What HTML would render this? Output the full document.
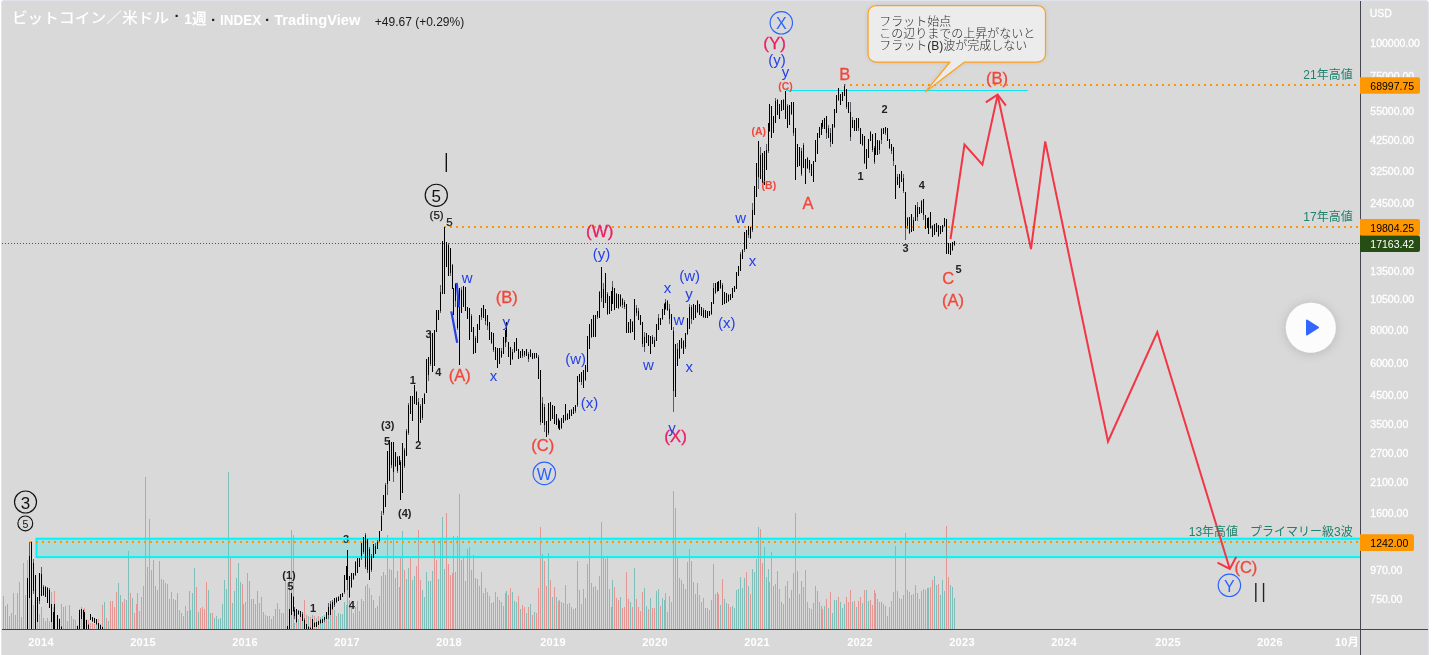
<!DOCTYPE html>
<html lang="ja"><head><meta charset="utf-8"><title>BTCUSD chart</title>
<style>
html,body{margin:0;padding:0;background:#fff;}
body{width:1432px;height:655px;overflow:hidden;position:relative;font-family:"Liberation Sans","Noto Sans CJK JP",sans-serif;}
#chart{position:absolute;left:1px;top:0;width:1426px;height:660px;background:#d9d9d9;border:1px solid #e0e3eb;border-radius:3px 3px 0 0;box-sizing:content-box}
</style></head><body><div id="chart"></div>
<svg width="1432" height="655" viewBox="0 0 1432 655" style="position:absolute;left:0;top:0">
<defs><clipPath id="pane"><rect x="2" y="1" width="1358" height="628"/></clipPath><filter id="sh" x="-50%" y="-50%" width="200%" height="200%"><feGaussianBlur in="SourceAlpha" stdDeviation="6"/><feOffset dy="1"/><feComponentTransfer><feFuncA type="linear" slope="0.16"/></feComponentTransfer><feMerge><feMergeNode/><feMergeNode in="SourceGraphic"/></feMerge></filter><filter id="sh2" x="-20%" y="-20%" width="140%" height="160%"><feGaussianBlur in="SourceAlpha" stdDeviation="2"/><feComponentTransfer><feFuncA type="linear" slope="0.10"/></feComponentTransfer><feMerge><feMergeNode/><feMergeNode in="SourceGraphic"/></feMerge></filter></defs>
<g clip-path="url(#pane)">
<path d="M3.5 629V595.8M7.5 629V603.9M11.5 629V613.0M15.5 629V615.1M17.5 629V593.0M19.5 629V582.1M21.5 629V616.9M23.5 629V563.1M25.5 629V595.0M27.5 629V560.0M29.5 629V597.5M33.5 629V604.8M37.5 629V620.7M39.5 629V613.7M43.5 629V617.9M47.5 629V617.9M57.5 629V617.9M67.5 629V621.0M69.5 629V604.8M73.5 629V618.9M75.5 629V620.0M77.5 629V624.9M79.5 629V608.8M81.5 629V607.1M86.5 629V618.9M96.5 629V620.0M100.5 629V624.2M104.5 629V601.7M108.5 629V620.7M118.5 629V582.8M120.5 629V594.7M126.5 629V599.6M128.5 629V550.9M132.5 629V597.8M143.5 629V585.6M147.5 629V566.6M153.5 629V559.9M155.5 629V585.6M157.5 629V589.8M159.5 629V560.7M161.5 629V578.6M175.5 629V599.6M177.5 629V592.6M181.5 629V612.7M187.5 629V610.9M189.5 629V590.8M190.5 629V609.8M192.5 629V592.6M194.5 629V567.8M198.5 629V611.9M208.5 629V589.8M210.5 629V612.7M214.5 629V617.9M216.5 629V615.8M218.5 629V618.9M220.5 629V617.9M222.5 629V603.9M224.5 629V579.7M226.5 629V589.0M228.5 629V472.0M232.5 629V602.7M234.5 629V590.8M236.5 629V577.6M238.5 629V562.7M240.5 629V581.8M243.5 629V603.9M245.5 629V601.8M249.5 629V580.7M253.5 629V598.7M255.5 629V603.9M257.5 629V590.8M263.5 629V611.9M267.5 629V615.8M271.5 629V618.9M273.5 629V615.8M275.5 629V608.8M285.5 629V579.7M287.5 629V582.8M289.5 629V578.6M291.5 629V530.0M294.5 629V622.8M298.5 629V618.6M302.5 629V620.0M308.5 629V615.8M312.5 629V615.1M316.5 629V617.9M320.5 629V616.5M322.5 629V615.8M324.5 629V615.1M328.5 629V613.0M330.5 629V611.6M334.5 629V610.2M338.5 629V613.0M340.5 629V613.7M342.5 629V613.7M344.5 629V601.7M346.5 629V604.8M355.5 629V607.1M359.5 629V610.9M361.5 629V598.8M363.5 629V600.8M371.5 629V595.1M373.5 629V600.2M377.5 629V606.4M379.5 629V596.3M381.5 629V576.2M383.5 629V572.1M385.5 629V575.0M387.5 629V535.2M391.5 629V570.1M397.5 629V571.1M402.5 629V531.2M406.5 629V579.0M408.5 629V568.1M412.5 629V580.2M414.5 629V576.2M422.5 629V590.1M424.5 629V597.1M426.5 629V571.9M428.5 629V581.0M430.5 629V581.0M432.5 629V570.9M438.5 629V579.0M440.5 629V539.3M442.5 629V517.1M444.5 629V569.0M455.5 629V571.9M461.5 629V560.0M463.5 629V557.4M465.5 629V581.0M471.5 629V570.1M475.5 629V578.2M477.5 629V579.0M479.5 629V586.3M481.5 629V572.1M483.5 629V593.1M491.5 629V603.2M493.5 629V602.2M499.5 629V600.2M501.5 629V601.5M505.5 629V593.1M506.5 629V591.3M512.5 629V592.3M514.5 629V601.2M516.5 629V602.2M520.5 629V609.2M526.5 629V613.3M530.5 629V604.2M534.5 629V612.3M542.5 629V554.0M548.5 629V553.4M552.5 629V597.1M556.5 629V597.1M561.5 629V602.2M565.5 629V585.0M567.5 629V604.2M569.5 629V603.2M571.5 629V607.2M573.5 629V609.2M575.5 629V608.2M577.5 629V561.1M581.5 629V604.2M585.5 629V598.2M587.5 629V564.1M589.5 629V537.3M591.5 629V583.0M593.5 629V587.1M597.5 629V590.1M599.5 629V576.0M603.5 629V557.4M607.5 629V556.4M611.5 629V606.5M612.5 629V580.0M620.5 629V597.1M630.5 629V602.2M634.5 629V568.1M644.5 629V588.1M646.5 629V606.2M650.5 629V598.2M656.5 629V591.1M658.5 629V589.1M662.5 629V598.2M664.5 629V600.2M675.5 629V508.0M677.5 629V557.4M679.5 629V578.2M681.5 629V580.2M683.5 629V584.2M685.5 629V589.1M687.5 629V562.1M691.5 629V561.1M695.5 629V594.1M697.5 629V583.0M705.5 629V608.2M707.5 629V608.2M711.5 629V600.2M713.5 629V564.1M715.5 629V594.1M717.5 629V592.1M720.5 629V605.2M724.5 629V599.2M726.5 629V603.2M732.5 629V606.2M734.5 629V608.2M736.5 629V590.1M738.5 629V589.1M740.5 629V577.0M742.5 629V588.1M744.5 629V578.2M748.5 629V586.1M752.5 629V569.1M754.5 629V572.1M756.5 629V559.1M758.5 629V527.2M764.5 629V547.0M766.5 629V577.0M768.5 629V569.1M769.5 629V582.0M773.5 629V586.1M775.5 629V584.1M777.5 629V571.4M781.5 629V602.2M783.5 629V604.2M789.5 629V598.2M791.5 629V590.1M797.5 629V571.0M799.5 629V594.1M801.5 629V581.0M807.5 629V602.2M813.5 629V603.2M815.5 629V586.1M817.5 629V591.1M819.5 629V602.2M821.5 629V606.2M824.5 629V606.2M828.5 629V608.2M832.5 629V612.8M834.5 629V600.2M836.5 629V600.2M840.5 629V602.2M842.5 629V608.2M844.5 629V604.2M852.5 629V602.2M856.5 629V607.2M862.5 629V603.2M866.5 629V590.1M868.5 629V601.2M875.5 629V593.1M877.5 629V599.2M879.5 629V602.2M881.5 629V602.2M887.5 629V615.5M901.5 629V599.2M907.5 629V590.1M911.5 629V595.1M915.5 629V585.1M917.5 629V593.1M921.5 629V591.1M927.5 629V588.1M928.5 629V588.1M934.5 629V576.0M936.5 629V585.1M940.5 629V595.1M942.5 629V580.0M944.5 629V591.2M950.5 629V585.1M952.5 629V587.1M954.5 629V598.2" stroke="#80bfb9" stroke-width="1" shape-rendering="crispEdges" fill="none"/>
<path d="M5.5 629V606.0M9.5 629V615.8M13.5 629V593.0M31.5 629V607.4M35.5 629V613.0M41.5 629V607.1M45.5 629V620.7M49.5 629V620.7M51.5 629V591.9M53.5 629V607.1M54.5 629V590.8M59.5 629V617.9M61.5 629V603.9M63.5 629V607.1M65.5 629V606.0M71.5 629V615.8M83.5 629V608.8M84.5 629V608.1M88.5 629V620.0M90.5 629V622.8M92.5 629V622.8M94.5 629V623.9M98.5 629V618.9M102.5 629V604.8M106.5 629V617.9M110.5 629V601.0M112.5 629V600.6M114.5 629V606.7M116.5 629V591.9M122.5 629V601.8M124.5 629V598.7M130.5 629V592.6M134.5 629V612.7M136.5 629V603.9M137.5 629V592.6M139.5 629V610.9M141.5 629V596.8M145.5 629V477.0M149.5 629V519.0M151.5 629V569.7M163.5 629V580.0M165.5 629V582.8M167.5 629V584.0M169.5 629V598.9M171.5 629V591.9M173.5 629V598.7M179.5 629V609.8M183.5 629V615.8M185.5 629V605.7M196.5 629V586.7M200.5 629V607.8M202.5 629V606.8M204.5 629V608.8M206.5 629V581.8M212.5 629V612.7M230.5 629V557.9M242.5 629V583.8M247.5 629V572.7M251.5 629V598.7M259.5 629V602.7M261.5 629V596.8M265.5 629V614.8M269.5 629V615.8M277.5 629V602.7M279.5 629V609.0M281.5 629V612.7M283.5 629V612.7M293.5 629V535.0M296.5 629V622.8M300.5 629V616.5M304.5 629V600.1M306.5 629V615.1M310.5 629V616.5M314.5 629V615.8M318.5 629V615.8M326.5 629V616.5M332.5 629V602.0M336.5 629V615.8M347.5 629V589.8M349.5 629V599.6M351.5 629V608.1M353.5 629V613.0M357.5 629V601.0M365.5 629V586.3M367.5 629V584.2M369.5 629V587.7M375.5 629V607.8M389.5 629V569.0M393.5 629V539.3M395.5 629V578.2M399.5 629V587.1M400.5 629V557.4M404.5 629V570.1M410.5 629V557.4M416.5 629V566.1M418.5 629V530.2M420.5 629V580.2M434.5 629V538.3M436.5 629V560.0M446.5 629V513.1M448.5 629V564.1M450.5 629V575.0M452.5 629V573.0M453.5 629V536.3M457.5 629V536.3M459.5 629V494.0M467.5 629V549.4M469.5 629V547.3M473.5 629V555.4M485.5 629V588.1M487.5 629V592.3M489.5 629V596.3M495.5 629V592.3M497.5 629V597.1M503.5 629V606.2M508.5 629V595.1M510.5 629V588.1M518.5 629V596.3M522.5 629V605.2M524.5 629V607.2M528.5 629V607.2M532.5 629V615.3M536.5 629V613.3M538.5 629V588.1M540.5 629V527.2M544.5 629V561.1M546.5 629V586.3M550.5 629V580.2M554.5 629V587.1M558.5 629V601.2M559.5 629V600.2M563.5 629V603.2M579.5 629V590.1M583.5 629V589.1M595.5 629V586.1M601.5 629V522.1M605.5 629V559.0M609.5 629V589.1M614.5 629V587.1M616.5 629V598.2M618.5 629V600.2M622.5 629V608.2M624.5 629V607.2M626.5 629V571.9M628.5 629V599.2M632.5 629V607.2M636.5 629V599.2M638.5 629V607.2M640.5 629V611.3M642.5 629V592.1M648.5 629V609.2M652.5 629V608.2M654.5 629V608.2M660.5 629V606.2M665.5 629V593.1M667.5 629V612.2M669.5 629V596.1M671.5 629V602.2M673.5 629V491.0M689.5 629V549.0M693.5 629V582.0M699.5 629V595.1M701.5 629V602.2M703.5 629V598.2M709.5 629V610.2M718.5 629V594.1M722.5 629V579.2M728.5 629V604.2M730.5 629V607.2M746.5 629V571.9M750.5 629V594.1M760.5 629V529.2M762.5 629V563.1M771.5 629V552.0M779.5 629V589.1M785.5 629V586.1M787.5 629V581.0M793.5 629V573.0M795.5 629V513.1M803.5 629V587.1M805.5 629V570.2M809.5 629V608.2M811.5 629V609.2M822.5 629V609.2M826.5 629V599.2M830.5 629V592.1M838.5 629V597.2M846.5 629V597.2M848.5 629V602.2M850.5 629V590.1M854.5 629V601.2M858.5 629V601.2M860.5 629V597.2M864.5 629V590.1M870.5 629V600.2M872.5 629V605.2M874.5 629V590.1M883.5 629V604.2M885.5 629V606.2M889.5 629V607.2M891.5 629V601.2M893.5 629V592.1M895.5 629V546.0M897.5 629V591.1M899.5 629V598.2M903.5 629V595.1M905.5 629V532.9M909.5 629V592.1M913.5 629V594.1M919.5 629V599.2M923.5 629V589.1M925.5 629V590.1M930.5 629V587.1M932.5 629V580.0M938.5 629V584.1M946.5 629V525.8M948.5 629V577.0" stroke="#e49694" stroke-width="1" shape-rendering="crispEdges" fill="none"/>
<text x="346" y="542.9" font-size="11" fill="#222" font-weight="bold" text-anchor="middle" font-family="Liberation Sans, sans-serif">3</text>
<rect x="36.5" y="538.7" width="1340" height="18.4" fill="rgba(0,226,226,0.22)" stroke="#00f6f6" stroke-width="2"/>
<path d="M2 243.5H1360.5" stroke="#3a6b28" stroke-width="1" stroke-dasharray="1 2" shape-rendering="crispEdges"/>
<path d="M30 542H1358" stroke="#ff9800" stroke-width="2" stroke-dasharray="2 4" />
<path d="M444 227H1358" stroke="#ff9800" stroke-width="2" stroke-dasharray="2 4" />
<path d="M844 85H1358" stroke="#ff9800" stroke-width="2" stroke-dasharray="2 4" />
<path d="M786 90.5H1028" stroke="#10e4f4" stroke-width="1" shape-rendering="crispEdges"/>
<path d="M27.5 578.0V640.0M29.5 541.7V598.0M31.5 541.7V640.0M33.5 559.0V594.0M35.5 575.0V640.0M37.5 597.0V621.6M39.5 573.0V604.0M41.5 567.0V596.0M43.5 584.5V596.0M45.5 585.6V597.0M47.5 587.0V603.0M49.5 588.0V607.7M51.5 604.0V621.6M53.5 612.0V640.0M54.5 604.0V640.0M57.5 614.6V640.0M59.5 619.0V640.0M61.5 625.8V640.0M77.5 626.0V640.0M79.5 610.0V640.0M81.5 608.8V619.0M83.5 610.4V629.5M84.5 612.0V640.0M86.5 620.0V640.0M88.5 624.0V640.0M90.5 613.5V620.4M92.5 617.0V622.0M94.5 618.0V623.0M96.5 619.0V625.0M98.5 622.8V640.0M100.5 625.0V640.0M102.5 627.0V640.0M287.5 626.0V640.0M289.5 609.0V640.0M291.5 592.6V614.7M293.5 596.0V612.0M294.5 606.6V619.0M296.5 609.0V623.0M298.5 610.0V615.0M300.5 610.5V617.0M302.5 612.0V620.5M304.5 618.0V640.0M306.5 624.0V640.0M308.5 626.0V640.0M310.5 626.5V640.0M312.5 619.0V640.0M314.5 621.7V627.0M316.5 622.0V627.0M318.5 620.5V625.0M320.5 619.0V624.0M322.5 619.0V623.0M324.5 617.0V621.5M326.5 612.0V619.0M328.5 603.0V619.0M330.5 600.7V614.7M332.5 599.6V610.0M334.5 598.0V606.6M336.5 597.0V603.0M338.5 596.0V601.0M340.5 594.0V599.6M342.5 592.6V597.0M344.5 575.0V594.0M346.5 566.0V580.0M347.5 549.7V590.0M349.5 576.0V598.4M351.5 573.0V588.0M353.5 573.0V580.0M355.5 561.0V576.0M357.5 557.8V573.0M359.5 557.8V567.0M361.5 542.7V560.0M363.5 537.0V554.0M365.5 533.0V569.0M367.5 539.0V573.0M369.5 547.0V580.0M371.5 554.0V572.0M373.5 544.0V558.0M375.5 542.7V554.0M377.5 540.0V548.5M379.5 531.0V541.5M381.5 510.5V531.0M383.5 494.7V515.0M385.5 483.0V507.0M387.5 450.7V494.7M389.5 439.7V481.0M391.5 442.0V467.8M393.5 442.0V482.0M395.5 452.0V466.5M397.5 455.5V472.7M399.5 455.5V465.0M400.5 460.0V499.6M402.5 443.0V493.0M404.5 448.0V467.8M406.5 428.7V455.5M408.5 403.0V434.8M410.5 395.7V414.0M412.5 395.7V421.0M414.5 384.7V404.0M416.5 390.8V405.4M418.5 398.0V442.0M420.5 404.0V422.6M422.5 398.0V420.0M424.5 393.0V404.0M426.5 359.0V393.0M428.5 356.7V381.0M430.5 332.0V366.0M432.5 333.0V372.0M434.5 329.8V366.0M436.5 310.0V332.0M438.5 310.0V320.0M440.5 284.5V312.7M442.5 240.5V294.0M444.5 226.6V294.3M446.5 241.8V267.4M448.5 243.0V276.0M450.5 247.9V276.0M452.5 263.8V289.4M453.5 288.0V315.0M455.5 283.0V306.6M457.5 284.6V330.0M459.5 287.8V364.5M461.5 287.0V312.7M463.5 285.8V306.6M465.5 287.0V311.4M467.5 306.6V318.8M469.5 307.8V339.6M471.5 313.9V332.0M473.5 327.3V354.0M475.5 335.9V353.0M477.5 323.7V343.0M479.5 315.0V329.8M481.5 307.8V320.0M483.5 305.0V317.6M485.5 309.0V324.9M487.5 315.0V329.8M489.5 322.0V339.6M491.5 332.0V344.0M493.5 333.0V351.8M495.5 346.9V360.0M497.5 348.0V367.7M499.5 348.0V364.0M501.5 348.0V357.9M503.5 337.0V354.0M505.5 329.8V346.9M506.5 322.0V342.0M508.5 342.0V356.7M510.5 346.9V365.0M512.5 349.0V360.0M514.5 342.0V353.0M516.5 338.0V350.5M518.5 349.0V359.0M520.5 350.5V357.9M522.5 349.0V357.9M524.5 350.5V356.7M526.5 349.0V355.5M528.5 351.8V361.5M530.5 349.0V356.7M532.5 353.0V359.0M534.5 353.0V359.0M536.5 353.0V357.9M538.5 355.0V378.6M540.5 370.0V425.0M542.5 397.0V422.6M544.5 404.0V432.0M546.5 421.0V436.5M548.5 403.0V434.8M550.5 401.8V421.0M552.5 405.0V419.0M554.5 406.0V423.8M556.5 414.0V425.0M558.5 417.7V428.7M559.5 420.0V430.0M561.5 417.7V428.7M563.5 415.0V422.6M565.5 404.0V421.0M567.5 412.8V420.0M569.5 410.0V419.0M571.5 409.0V416.4M573.5 406.7V414.0M575.5 405.0V412.8M577.5 376.0V406.7M579.5 373.7V382.0M581.5 372.0V384.7M583.5 370.0V387.6M585.5 365.0V381.0M587.5 335.9V372.0M589.5 323.7V349.0M591.5 318.8V338.0M593.5 315.0V337.0M595.5 315.0V337.0M597.5 311.0V318.8M599.5 290.7V317.6M601.5 267.0V301.7M603.5 283.0V307.8M605.5 273.0V302.9M607.5 291.9V315.0M609.5 295.6V313.9M611.5 290.7V311.0M612.5 280.9V304.0M614.5 288.0V310.0M616.5 293.0V307.8M618.5 294.0V309.0M620.5 294.0V306.6M622.5 298.0V307.8M624.5 300.0V309.0M626.5 304.0V333.0M628.5 322.0V333.0M630.5 318.8V333.0M632.5 321.0V332.0M634.5 299.0V339.6M636.5 305.0V316.0M638.5 307.8V320.0M640.5 315.0V324.9M642.5 322.0V346.9M644.5 332.0V351.8M646.5 333.0V343.0M648.5 334.7V345.7M650.5 335.9V354.0M652.5 334.7V344.0M654.5 337.0V346.9M656.5 323.7V340.8M658.5 313.9V329.8M660.5 317.6V324.9M662.5 309.0V320.0M664.5 302.9V315.0M665.5 299.0V310.0M667.5 300.0V311.0M669.5 304.0V323.7M671.5 313.9V329.8M673.5 327.0V412.0M675.5 344.4V397.0M677.5 343.0V366.0M679.5 339.6V359.0M681.5 338.0V349.0M683.5 339.6V354.0M685.5 333.0V349.0M687.5 317.6V334.7M689.5 304.0V328.6M691.5 305.0V323.7M693.5 304.0V320.0M695.5 305.0V317.6M697.5 300.0V312.7M699.5 304.0V315.0M701.5 306.6V316.0M703.5 307.8V317.6M705.5 310.0V317.6M707.5 311.0V317.6M709.5 311.0V316.0M711.5 301.7V315.0M713.5 283.0V304.0M715.5 283.0V294.0M717.5 282.0V291.9M718.5 280.9V290.7M720.5 279.7V289.4M722.5 283.0V305.0M724.5 291.9V304.0M726.5 293.0V302.9M728.5 294.0V301.7M730.5 294.0V300.0M732.5 288.0V298.0M734.5 285.8V291.9M736.5 272.0V289.4M738.5 266.0V276.0M740.5 251.6V271.0M742.5 249.0V258.9M744.5 232.0V251.6M746.5 229.6V249.0M748.5 225.9V238.0M750.5 227.0V239.0M752.5 203.0V231.7M754.5 185.9V215.0M756.5 163.0V196.9M758.5 141.0V188.6M760.5 147.4V178.6M762.5 152.9V183.0M764.5 151.0V185.0M766.5 143.7V170.3M768.5 122.6V152.9M769.5 104.0V132.0M771.5 106.0V138.0M773.5 115.7V133.0M775.5 98.0V122.6M777.5 99.0V114.8M779.5 104.0V118.7M781.5 100.0V110.8M783.5 99.0V109.9M785.5 91.3V118.7M787.5 104.0V128.4M789.5 105.0V124.5M791.5 102.0V114.8M793.5 102.0V136.0M795.5 128.4V180.4M797.5 143.7V166.6M799.5 147.4V165.7M801.5 148.3V175.6M803.5 142.8V168.0M805.5 158.9V183.5M807.5 156.9V169.4M809.5 159.8V172.7M811.5 164.0V175.6M813.5 161.3V181.5M815.5 139.5V162.0M817.5 132.8V154.3M819.5 126.5V138.0M821.5 122.6V135.0M822.5 119.6V129.0M824.5 117.7V129.0M826.5 115.7V139.0M828.5 124.5V138.0M830.5 128.4V147.0M832.5 123.6V144.0M834.5 108.9V128.4M836.5 95.0V112.8M838.5 88.0V101.0M840.5 94.0V105.0M842.5 92.0V101.0M844.5 84.4V96.0M846.5 89.0V108.9M848.5 102.0V112.8M850.5 102.0V141.0M852.5 116.7V128.4M854.5 119.6V131.4M856.5 117.7V131.4M858.5 117.7V131.4M860.5 127.5V144.0M862.5 134.0V146.0M864.5 136.0V164.2M866.5 149.0V168.5M868.5 139.0V157.8M870.5 131.4V141.0M872.5 134.0V152.0M874.5 146.0V163.6M875.5 133.0V154.8M877.5 140.0V154.8M879.5 140.0V153.9M881.5 128.4V144.0M883.5 127.5V134.0M885.5 126.5V135.0M887.5 127.5V141.0M889.5 139.0V149.0M891.5 144.0V153.9M893.5 147.0V165.6M895.5 164.7V198.9M897.5 174.4V185.0M899.5 173.5V188.0M901.5 170.5V182.0M903.5 173.5V193.0M905.5 192.0V240.0M907.5 216.5V229.0M909.5 216.5V234.0M911.5 213.6V232.0M913.5 216.5V231.0M915.5 204.8V221.4M917.5 201.8V221.4M919.5 206.7V213.6M921.5 199.9V212.6M923.5 198.9V220.4M925.5 214.5V229.0M927.5 217.5V228.0M928.5 216.5V234.0M930.5 211.6V229.0M932.5 225.0V237.0M934.5 224.0V235.0M936.5 223.0V232.0M938.5 225.0V237.0M940.5 226.0V234.0M942.5 225.0V232.0M944.5 217.5V227.0M946.5 219.4V253.6M948.5 243.0V253.6M950.5 243.0V254.6M952.5 242.0V250.7M954.5 241.0V245.8" stroke="#5a5e6b" stroke-width="1" shape-rendering="crispEdges" fill="none"/>
<path d="M27.5 578.0V640.0M29.5 555.8V598.0M31.5 541.7V640.0M33.5 562.5V590.5M35.5 575.0V640.0M37.5 597.0V621.6M39.5 573.0V600.9M41.5 574.2V596.0M43.5 587.4V595.4M45.5 586.7V597.0M47.5 587.8V603.0M49.5 590.0V607.7M51.5 604.0V621.6M53.5 612.0V640.0M54.5 604.0V640.0M57.5 614.6V640.0M59.5 619.0V640.0M61.5 626.5V640.0M77.5 626.0V640.0M79.5 610.0V640.0M81.5 608.8V619.0M83.5 610.4V629.5M84.5 612.0V640.0M86.5 620.0V640.0M88.5 624.8V638.4M90.5 613.5V620.4M92.5 617.2V620.8M94.5 618.0V623.0M96.5 619.0V623.5M98.5 622.8V640.0M100.5 625.0V639.2M102.5 627.0V640.0M287.5 626.0V640.0M289.5 609.0V636.9M291.5 592.6V614.7M293.5 596.8V611.2M294.5 609.7V615.9M296.5 609.0V621.6M298.5 610.5V613.8M300.5 610.8V617.0M302.5 614.1V620.5M304.5 620.2V640.0M306.5 624.0V640.0M308.5 627.4V639.3M310.5 627.9V640.0M312.5 619.0V634.8M314.5 623.0V626.5M316.5 622.2V626.5M318.5 620.5V624.5M320.5 619.5V622.8M322.5 619.2V623.0M324.5 617.2V620.4M326.5 612.4V618.6M328.5 607.0V615.0M330.5 604.2V614.7M332.5 602.2V609.0M334.5 598.4V604.5M336.5 597.6V602.4M338.5 596.5V600.5M340.5 594.0V599.6M342.5 592.6V597.0M344.5 575.0V592.1M346.5 566.0V580.0M347.5 549.7V579.9M349.5 576.0V597.3M351.5 573.0V586.5M353.5 573.0V579.3M355.5 561.8V574.5M357.5 557.8V573.0M359.5 557.8V567.0M361.5 542.7V555.7M363.5 537.0V552.3M365.5 534.8V567.2M367.5 539.0V569.6M369.5 548.6V580.0M371.5 555.8V570.2M373.5 544.0V558.0M375.5 545.5V554.0M377.5 542.1V548.5M379.5 531.0V540.5M381.5 515.6V531.0M383.5 494.7V513.0M385.5 485.4V507.0M387.5 450.7V483.7M389.5 439.7V481.0M391.5 442.0V465.2M393.5 442.0V472.0M395.5 452.0V465.8M397.5 457.2V471.0M399.5 455.5V465.0M400.5 462.0V499.6M402.5 443.0V493.0M404.5 450.0V465.8M406.5 431.4V455.5M408.5 404.6V433.2M410.5 395.7V414.0M412.5 395.7V421.0M414.5 384.7V404.0M416.5 392.3V405.4M418.5 402.4V442.0M420.5 405.9V422.6M422.5 398.0V417.8M424.5 393.6V404.0M426.5 359.0V393.0M428.5 356.7V374.9M430.5 332.0V364.3M432.5 333.0V372.0M434.5 329.8V366.0M436.5 310.0V332.0M438.5 310.0V320.0M440.5 291.6V311.3M442.5 240.5V294.0M444.5 226.6V294.3M446.5 241.8V267.4M448.5 244.7V276.0M450.5 247.9V273.2M452.5 265.1V289.4M453.5 288.0V315.0M455.5 284.2V300.7M457.5 289.1V327.7M459.5 287.8V364.5M461.5 289.6V312.7M463.5 285.8V306.6M465.5 287.0V311.4M467.5 306.6V318.8M469.5 307.8V339.6M471.5 315.7V332.0M473.5 327.3V354.0M475.5 337.6V353.0M477.5 323.7V343.0M479.5 315.0V329.8M481.5 307.8V316.9M483.5 305.0V317.6M485.5 309.0V320.9M487.5 315.0V326.1M489.5 322.0V339.6M491.5 332.0V342.8M493.5 333.0V349.9M495.5 346.9V360.0M497.5 348.0V367.7M499.5 348.0V364.0M501.5 350.5V357.4M503.5 337.0V354.0M505.5 329.8V342.6M506.5 322.0V337.0M508.5 342.0V356.7M510.5 346.9V365.0M512.5 351.8V358.9M514.5 342.0V351.9M516.5 338.0V350.5M518.5 349.0V359.0M520.5 350.9V357.9M522.5 349.0V355.7M524.5 350.5V355.1M526.5 349.0V355.5M528.5 354.2V359.1M530.5 349.8V356.7M532.5 353.3V358.7M534.5 353.0V358.4M536.5 353.0V357.9M538.5 357.4V378.6M540.5 370.0V422.2M542.5 403.4V422.6M544.5 406.8V425.0M546.5 421.0V436.5M548.5 403.0V433.2M550.5 401.8V421.0M552.5 405.0V419.0M554.5 406.0V423.8M556.5 414.0V425.0M558.5 418.8V427.6M559.5 421.0V430.0M561.5 417.7V427.6M563.5 415.0V422.6M565.5 404.0V420.1M567.5 413.5V420.0M569.5 410.0V419.0M571.5 409.7V416.4M573.5 406.7V414.0M575.5 405.4V410.9M577.5 376.0V405.2M579.5 373.7V382.0M581.5 372.0V381.5M583.5 370.0V387.6M585.5 365.0V380.2M587.5 335.9V372.0M589.5 323.7V349.0M591.5 318.8V337.0M593.5 315.0V337.0M595.5 315.0V337.0M597.5 311.0V316.9M599.5 292.0V317.6M601.5 267.0V298.2M603.5 289.2V307.8M605.5 273.0V302.9M607.5 294.2V313.8M609.5 295.6V313.9M611.5 290.7V311.0M612.5 286.7V304.0M614.5 288.0V310.0M616.5 293.7V307.8M618.5 294.0V307.5M620.5 294.6V306.0M622.5 299.0V305.4M624.5 302.2V306.8M626.5 304.0V333.0M628.5 322.0V333.0M630.5 318.8V333.0M632.5 322.1V332.0M634.5 299.0V339.6M636.5 307.8V313.2M638.5 310.9V320.0M640.5 315.0V324.9M642.5 322.0V344.4M644.5 336.9V346.9M646.5 333.0V342.5M648.5 334.7V345.7M650.5 335.9V354.0M652.5 337.0V343.5M654.5 339.5V346.9M656.5 323.7V340.8M658.5 317.9V329.8M660.5 317.6V324.9M662.5 309.0V319.4M664.5 304.1V315.0M665.5 301.8V308.9M667.5 301.1V309.9M669.5 308.9V318.8M671.5 313.9V329.8M673.5 331.2V390.8M675.5 344.4V397.0M677.5 348.8V366.0M679.5 339.6V358.0M681.5 338.0V347.9M683.5 341.0V354.0M685.5 333.0V347.4M687.5 317.6V333.8M689.5 306.5V328.6M691.5 306.9V319.0M693.5 304.0V320.0M695.5 305.0V317.6M697.5 300.6V312.1M699.5 304.0V315.0M701.5 306.6V316.0M703.5 310.2V317.1M705.5 310.0V317.6M707.5 311.3V317.6M709.5 311.0V316.0M711.5 301.7V313.7M713.5 288.2V304.0M715.5 283.0V293.4M717.5 282.0V291.4M718.5 280.9V290.7M720.5 279.7V288.4M722.5 285.2V305.0M724.5 291.9V304.0M726.5 293.0V302.9M728.5 294.8V300.9M730.5 294.0V300.0M732.5 288.0V298.0M734.5 286.4V291.9M736.5 272.0V289.4M738.5 266.0V276.0M740.5 253.5V271.0M742.5 250.0V258.9M744.5 232.0V249.6M746.5 229.6V249.0M748.5 225.9V235.0M750.5 227.0V237.8M752.5 210.2V230.3M754.5 185.9V215.0M756.5 163.0V196.9M758.5 141.0V176.7M760.5 155.2V178.6M762.5 152.9V183.0M764.5 151.0V185.0M766.5 150.3V170.3M768.5 122.6V151.4M769.5 104.0V130.6M771.5 106.0V138.0M773.5 115.7V133.0M775.5 100.5V122.6M777.5 99.8V114.8M779.5 104.0V118.7M781.5 100.0V110.8M783.5 99.5V109.9M785.5 91.3V118.7M787.5 106.4V128.4M789.5 105.0V124.5M791.5 102.0V113.5M793.5 102.0V132.6M795.5 128.4V180.4M797.5 143.7V166.6M799.5 147.4V165.7M801.5 151.0V174.2M803.5 145.3V168.0M805.5 158.9V183.5M807.5 158.2V168.2M809.5 159.8V169.5M811.5 164.0V175.6M813.5 161.3V181.5M815.5 139.5V162.0M817.5 132.8V154.3M819.5 126.5V138.0M821.5 122.6V135.0M822.5 120.1V126.7M824.5 117.7V129.0M826.5 115.7V133.2M828.5 127.9V138.0M830.5 133.1V142.3M832.5 123.6V144.0M834.5 108.9V126.5M836.5 95.0V112.8M838.5 88.0V100.3M840.5 94.0V105.0M842.5 92.0V101.0M844.5 85.6V96.0M846.5 89.0V106.9M848.5 102.0V112.8M850.5 111.8V137.1M852.5 119.6V128.4M854.5 119.6V131.4M856.5 117.7V131.4M858.5 117.7V128.0M860.5 127.5V144.0M862.5 134.0V144.8M864.5 136.0V162.8M866.5 149.0V168.5M868.5 139.0V157.8M870.5 131.9V141.0M872.5 134.0V150.2M874.5 147.8V161.8M875.5 133.0V154.8M877.5 140.0V154.8M879.5 141.4V150.4M881.5 129.2V140.1M883.5 128.2V134.0M885.5 126.5V132.9M887.5 127.5V141.0M889.5 139.0V148.0M891.5 144.0V151.4M893.5 147.0V160.9M895.5 164.7V198.9M897.5 177.1V185.0M899.5 173.5V188.0M901.5 170.5V182.0M903.5 178.4V191.1M905.5 192.0V228.0M907.5 217.8V225.9M909.5 216.5V233.1M911.5 213.6V232.0M913.5 220.1V231.0M915.5 204.8V221.4M917.5 206.7V216.5M919.5 207.0V213.6M921.5 200.5V212.6M923.5 198.9V215.0M925.5 214.5V229.0M927.5 217.5V228.0M928.5 218.2V234.0M930.5 211.6V228.1M932.5 225.6V237.0M934.5 224.0V235.0M936.5 223.0V232.0M938.5 225.0V236.4M940.5 226.0V234.0M942.5 225.0V232.0M944.5 217.5V226.1M946.5 219.4V253.6M948.5 243.0V253.6M950.5 243.0V254.6M952.5 242.4V249.8M954.5 241.0V245.3" stroke="#000" stroke-width="1" shape-rendering="crispEdges" fill="none"/>
<path d="M456.7 282.8L459.1 307.3M451.3 311.4L457.2 342.7" stroke="#2440e8" stroke-width="2.2" fill="none"/>
<path d="M950.5 239L964.5 144.5L982.4 164.7L997.6 95L1031 249L1045.2 141.5L1108 441.5L1157.3 332L1229.8 569" stroke="#f23645" stroke-width="2" fill="none" stroke-linejoin="miter"/>
<path d="M985.8 102.3L997.6 94.6L1005.9 105.7" stroke="#f23645" stroke-width="2" fill="none"/>
<path d="M1217.5 562.6L1229.8 569L1236.3 556.7" stroke="#f23645" stroke-width="2" fill="none"/>
</g>
<path d="M2 629.5H1428M1360.5 1V655" stroke="#434651" stroke-width="1" shape-rendering="crispEdges"/>
<g font-family="Liberation Sans, Noto Sans CJK JP, sans-serif">
<path filter="url(#sh2)" d="M876 5.5H1037.5a8 8 0 0 1 8 8V54a8 8 0 0 1-8 8H964.6L925.5 91.8L950 62H876a8 8 0 0 1-8-8V13.5a8 8 0 0 1 8-8Z" fill="#ececec" stroke="#ffa01c" stroke-width="1.25" stroke-linejoin="round"/>
<text x="879.3" y="25.84" font-size="12" fill="#2a2a2a" font-weight="300" text-anchor="start" >フラット始点</text>
<text x="879.3" y="37.94" font-size="12" fill="#2a2a2a" font-weight="300" text-anchor="start" >この辺りまでの上昇がないと</text>
<text x="879.3" y="50.04" font-size="12" fill="#2a2a2a" font-weight="300" text-anchor="start" >フラット(B)波が完成しない</text>
<text x="289" y="578.56" font-size="11" fill="#222" font-weight="bold" text-anchor="middle" >(1)</text>
<text x="290.6" y="590.34" font-size="11" fill="#222" font-weight="bold" text-anchor="middle" >5</text>
<text x="313" y="611.94" font-size="11" fill="#222" font-weight="bold" text-anchor="middle" >1</text>
<text x="351.7" y="609.34" font-size="11" fill="#222" font-weight="bold" text-anchor="middle" >4</text>
<text x="404.7" y="516.56" font-size="11" fill="#222" font-weight="bold" text-anchor="middle" >(4)</text>
<text x="387.8" y="428.56" font-size="11" fill="#222" font-weight="bold" text-anchor="middle" >(3)</text>
<text x="387" y="445.34" font-size="11" fill="#222" font-weight="bold" text-anchor="middle" >5</text>
<text x="412.8" y="384.24" font-size="11" fill="#222" font-weight="bold" text-anchor="middle" >1</text>
<text x="418.4" y="448.74" font-size="11" fill="#222" font-weight="bold" text-anchor="middle" >2</text>
<text x="438.4" y="375.94" font-size="11" fill="#222" font-weight="bold" text-anchor="middle" >4</text>
<text x="428.6" y="337.74" font-size="11" fill="#222" font-weight="bold" text-anchor="middle" >3</text>
<text x="884.6" y="113.34" font-size="11" fill="#222" font-weight="bold" text-anchor="middle" >2</text>
<text x="860.5" y="180.24" font-size="11" fill="#222" font-weight="bold" text-anchor="middle" >1</text>
<text x="921.8" y="189.14" font-size="11" fill="#222" font-weight="bold" text-anchor="middle" >4</text>
<text x="905.5" y="252.44" font-size="11" fill="#222" font-weight="bold" text-anchor="middle" >3</text>
<text x="958.5" y="272.94" font-size="11" fill="#222" font-weight="bold" text-anchor="middle" >5</text>
<text x="436.6" y="219.29" font-size="11.5" fill="#1a1a1a" font-weight="normal" text-anchor="middle" stroke="#1a1a1a" stroke-width="0.25">(5)</text>
<text x="449.5" y="225.92" font-size="11.5" fill="#1a1a1a" font-weight="normal" text-anchor="middle" stroke="#1a1a1a" stroke-width="0.25">5</text>
<text x="459.7" y="381.09" font-size="16.5" fill="#f2463b" font-weight="normal" text-anchor="middle" stroke="#f2463b" stroke-width="0.3">(A)</text>
<text x="506.8" y="302.79" font-size="16.5" fill="#f2463b" font-weight="normal" text-anchor="middle" stroke="#f2463b" stroke-width="0.3">(B)</text>
<text x="542.8" y="450.79" font-size="16.5" fill="#f2463b" font-weight="normal" text-anchor="middle" stroke="#f2463b" stroke-width="0.3">(C)</text>
<text x="807.9" y="209.21" font-size="16.5" fill="#f2463b" font-weight="normal" text-anchor="middle" stroke="#f2463b" stroke-width="0.3">A</text>
<text x="844.7" y="79.91" font-size="16.5" fill="#f2463b" font-weight="normal" text-anchor="middle" stroke="#f2463b" stroke-width="0.3">B</text>
<text x="948.1" y="283.71" font-size="16.5" fill="#f2463b" font-weight="normal" text-anchor="middle" stroke="#f2463b" stroke-width="0.3">C</text>
<text x="952.9" y="306.49" font-size="16.5" fill="#f2463b" font-weight="normal" text-anchor="middle" stroke="#f2463b" stroke-width="0.3">(A)</text>
<text x="997" y="83.79" font-size="16.5" fill="#f2463b" font-weight="normal" text-anchor="middle" stroke="#f2463b" stroke-width="0.3">(B)</text>
<text x="1245.9" y="572.79" font-size="16.5" fill="#f2463b" font-weight="normal" text-anchor="middle" stroke="#f2463b" stroke-width="0.3">(C)</text>
<text x="758.8" y="135.33" font-size="10.5" fill="#f2463b" font-weight="bold" text-anchor="middle" >(A)</text>
<text x="768.9" y="188.53" font-size="10.5" fill="#f2463b" font-weight="bold" text-anchor="middle" >(B)</text>
<text x="785.5" y="89.93" font-size="10.5" fill="#f2463b" font-weight="bold" text-anchor="middle" >(C)</text>
<text x="599.7" y="237.42" font-size="17" fill="#e91e63" font-weight="normal" text-anchor="middle" stroke="#e91e63" stroke-width="0.3">(W)</text>
<text x="675.5" y="442.42" font-size="17" fill="#e91e63" font-weight="normal" text-anchor="middle" stroke="#e91e63" stroke-width="0.3">(X)</text>
<text x="774.6" y="48.62" font-size="17" fill="#e91e63" font-weight="normal" text-anchor="middle" stroke="#e91e63" stroke-width="0.3">(Y)</text>
<text x="467.2" y="282.9" font-size="15" fill="#2440e8" font-weight="normal" text-anchor="middle" >w</text>
<text x="506.3" y="326.55" font-size="15" fill="#2440e8" font-weight="normal" text-anchor="middle" >y</text>
<text x="493.4" y="380.7" font-size="15" fill="#2440e8" font-weight="normal" text-anchor="middle" >x</text>
<text x="575.7" y="363.5" font-size="15" fill="#2440e8" font-weight="normal" text-anchor="middle" >(w)</text>
<text x="589.5" y="408.1" font-size="15" fill="#2440e8" font-weight="normal" text-anchor="middle" >(x)</text>
<text x="601.6" y="258.9" font-size="15" fill="#2440e8" font-weight="normal" text-anchor="middle" >(y)</text>
<text x="648.5" y="369.6" font-size="15" fill="#2440e8" font-weight="normal" text-anchor="middle" >w</text>
<text x="667.4" y="293.3" font-size="15" fill="#2440e8" font-weight="normal" text-anchor="middle" >x</text>
<text x="679" y="324.9" font-size="15" fill="#2440e8" font-weight="normal" text-anchor="middle" >w</text>
<text x="689.2" y="371.9" font-size="15" fill="#2440e8" font-weight="normal" text-anchor="middle" >x</text>
<text x="688.9" y="299.15" font-size="15" fill="#2440e8" font-weight="normal" text-anchor="middle" >y</text>
<text x="689.6" y="280.9" font-size="15" fill="#2440e8" font-weight="normal" text-anchor="middle" >(w)</text>
<text x="726.8" y="328.3" font-size="15" fill="#2440e8" font-weight="normal" text-anchor="middle" >(x)</text>
<text x="740.6" y="222.6" font-size="15" fill="#2440e8" font-weight="normal" text-anchor="middle" >w</text>
<text x="752.4" y="266.4" font-size="15" fill="#2440e8" font-weight="normal" text-anchor="middle" >x</text>
<text x="671.9" y="432.95" font-size="15" fill="#2440e8" font-weight="normal" text-anchor="middle" >y</text>
<text x="776.9" y="64.7" font-size="15" fill="#2440e8" font-weight="normal" text-anchor="middle" >(y)</text>
<text x="785.4" y="76.55" font-size="15" fill="#2440e8" font-weight="normal" text-anchor="middle" >y</text>
<circle cx="25.5" cy="502" r="11" fill="none" stroke="#111" stroke-width="1.15"/>
<text x="25.5" y="508.59" font-size="17" fill="#111" font-weight="normal" text-anchor="middle" >3</text>
<circle cx="25.3" cy="523.4" r="7.4" fill="none" stroke="#111" stroke-width="1.15"/>
<text x="25.3" y="527.66" font-size="10.5" fill="#111" font-weight="normal" text-anchor="middle" >5</text>
<circle cx="436.3" cy="195.3" r="11.1" fill="none" stroke="#111" stroke-width="1.15"/>
<text x="436.3" y="201.89" font-size="17" fill="#111" font-weight="normal" text-anchor="middle" >5</text>
<circle cx="544.3" cy="473.4" r="11.2" fill="none" stroke="#2962ff" stroke-width="1.15"/>
<text x="544.3" y="479.63" font-size="16" fill="#2962ff" font-weight="normal" text-anchor="middle" >W</text>
<circle cx="781.3" cy="22.8" r="11.2" fill="none" stroke="#2962ff" stroke-width="1.15"/>
<text x="781.3" y="29.03" font-size="16" fill="#2962ff" font-weight="normal" text-anchor="middle" >X</text>
<circle cx="1229.4" cy="585.3" r="11.2" fill="none" stroke="#2962ff" stroke-width="1.15"/>
<text x="1229.4" y="591.53" font-size="16" fill="#2962ff" font-weight="normal" text-anchor="middle" >Y</text>
<text x="0" y="0" font-size="27" fill="#111" text-anchor="middle" transform="translate(446.4 171.8) scale(0.55 1)">I</text>
<text x="0" y="0" font-size="27" fill="#222" text-anchor="middle" transform="translate(1261.6 601.6) scale(0.55 1)" letter-spacing="6.9">II</text>
<text x="1352.7" y="79.44" font-size="12" fill="#1f806d" font-weight="normal" text-anchor="end" >21年高値</text>
<text x="1352.7" y="221.24" font-size="12" fill="#1f806d" font-weight="normal" text-anchor="end" >17年高値</text>
<text x="1352.8" y="536.44" font-size="12" fill="#1f806d" font-weight="normal" text-anchor="end" >13年高値　プライマリー級3波</text>
<text y="25.0" font-size="15.4" fill="#ffffff" font-weight="bold"><tspan x="11.9" y="22.6" font-size="14.6" font-weight="500" fill="#ffffff" textLength="157.2" lengthAdjust="spacingAndGlyphs">ビットコイン／米ドル</tspan><tspan x="174.6" y="20.6" fill="#1c1c1c">·</tspan><tspan x="184" y="24.4" font-size="14.6" textLength="22.7" lengthAdjust="spacingAndGlyphs">1週</tspan><tspan x="211.1" y="24.6" fill="#1c1c1c">·</tspan><tspan x="220.1" y="25.0" textLength="41.1" lengthAdjust="spacingAndGlyphs">INDEX</tspan><tspan x="265" y="24.6" fill="#1c1c1c">·</tspan><tspan x="274.2" y="25.0" textLength="86.2" lengthAdjust="spacingAndGlyphs">TradingView</tspan></text>
<text x="374.8" y="26.12" font-size="12" fill="#1a1a1a" font-weight="normal" text-anchor="start" >+49.67 (+0.29%)</text>
<text x="1369.7" y="16.76" font-size="10.5" fill="#ffffff" font-weight="normal" text-anchor="start" stroke="#fff" stroke-width="0.3">USD</text>
<text x="1370.3" y="47.16" font-size="10.5" fill="#ffffff" font-weight="normal" text-anchor="start" stroke="#fff" stroke-width="0.3">100000.00</text>
<text x="1370.3" y="79.86" font-size="10.5" fill="#ffffff" font-weight="normal" text-anchor="start" stroke="#fff" stroke-width="0.3">75000.00</text>
<text x="1370.3" y="115.06" font-size="10.5" fill="#ffffff" font-weight="normal" text-anchor="start" stroke="#fff" stroke-width="0.3">55000.00</text>
<text x="1370.3" y="144.36" font-size="10.5" fill="#ffffff" font-weight="normal" text-anchor="start" stroke="#fff" stroke-width="0.3">42500.00</text>
<text x="1370.3" y="174.76" font-size="10.5" fill="#ffffff" font-weight="normal" text-anchor="start" stroke="#fff" stroke-width="0.3">32500.00</text>
<text x="1370.3" y="206.86" font-size="10.5" fill="#ffffff" font-weight="normal" text-anchor="start" stroke="#fff" stroke-width="0.3">24500.00</text>
<text x="1370.3" y="274.56" font-size="10.5" fill="#ffffff" font-weight="normal" text-anchor="start" stroke="#fff" stroke-width="0.3">13500.00</text>
<text x="1370.3" y="303.06" font-size="10.5" fill="#ffffff" font-weight="normal" text-anchor="start" stroke="#fff" stroke-width="0.3">10500.00</text>
<text x="1370.3" y="333.96" font-size="10.5" fill="#ffffff" font-weight="normal" text-anchor="start" stroke="#fff" stroke-width="0.3">8000.00</text>
<text x="1370.3" y="366.66" font-size="10.5" fill="#ffffff" font-weight="normal" text-anchor="start" stroke="#fff" stroke-width="0.3">6000.00</text>
<text x="1370.3" y="399.26" font-size="10.5" fill="#ffffff" font-weight="normal" text-anchor="start" stroke="#fff" stroke-width="0.3">4500.00</text>
<text x="1370.3" y="427.86" font-size="10.5" fill="#ffffff" font-weight="normal" text-anchor="start" stroke="#fff" stroke-width="0.3">3500.00</text>
<text x="1370.3" y="457.26" font-size="10.5" fill="#ffffff" font-weight="normal" text-anchor="start" stroke="#fff" stroke-width="0.3">2700.00</text>
<text x="1370.3" y="485.86" font-size="10.5" fill="#ffffff" font-weight="normal" text-anchor="start" stroke="#fff" stroke-width="0.3">2100.00</text>
<text x="1370.3" y="516.66" font-size="10.5" fill="#ffffff" font-weight="normal" text-anchor="start" stroke="#fff" stroke-width="0.3">1600.00</text>
<text x="1370.3" y="573.56" font-size="10.5" fill="#ffffff" font-weight="normal" text-anchor="start" stroke="#fff" stroke-width="0.3">970.00</text>
<text x="1370.3" y="602.76" font-size="10.5" fill="#ffffff" font-weight="normal" text-anchor="start" stroke="#fff" stroke-width="0.3">750.00</text>
<path d="M1360.0 77.2H1418a2 2 0 0 1 2 2V91.8a2 2 0 0 1-2 2H1360.0Z" fill="#ff9800"/>
<text x="1370.3" y="90.26" font-size="10.5" fill="#000" font-weight="normal" text-anchor="start" >68997.75</text>
<path d="M1360.0 219.0H1418a2 2 0 0 1 2 2V233.60000000000002a2 2 0 0 1-2 2H1360.0Z" fill="#ff9800"/>
<text x="1370.3" y="232.06" font-size="10.5" fill="#000" font-weight="normal" text-anchor="start" >19804.25</text>
<path d="M1360.0 235.39999999999998H1418a2 2 0 0 1 2 2V250.0a2 2 0 0 1-2 2H1360.0Z" fill="#264d14"/>
<text x="1370.3" y="248.46" font-size="10.5" fill="#fff" font-weight="normal" text-anchor="start" >17163.42</text>
<path d="M1360.0 534.3000000000001H1412a2 2 0 0 1 2 2V548.9a2 2 0 0 1-2 2H1360.0Z" fill="#ff9800"/>
<text x="1370.3" y="547.36" font-size="10.5" fill="#000" font-weight="normal" text-anchor="start" >1242.00</text>
<text x="41" y="645.94" font-size="11" fill="#ffffff" font-weight="bold" text-anchor="middle" letter-spacing="0.3">2014</text>
<text x="143" y="645.94" font-size="11" fill="#ffffff" font-weight="bold" text-anchor="middle" letter-spacing="0.3">2015</text>
<text x="245" y="645.94" font-size="11" fill="#ffffff" font-weight="bold" text-anchor="middle" letter-spacing="0.3">2016</text>
<text x="347" y="645.94" font-size="11" fill="#ffffff" font-weight="bold" text-anchor="middle" letter-spacing="0.3">2017</text>
<text x="449" y="645.94" font-size="11" fill="#ffffff" font-weight="bold" text-anchor="middle" letter-spacing="0.3">2018</text>
<text x="553" y="645.94" font-size="11" fill="#ffffff" font-weight="bold" text-anchor="middle" letter-spacing="0.3">2019</text>
<text x="655" y="645.94" font-size="11" fill="#ffffff" font-weight="bold" text-anchor="middle" letter-spacing="0.3">2020</text>
<text x="757" y="645.94" font-size="11" fill="#ffffff" font-weight="bold" text-anchor="middle" letter-spacing="0.3">2021</text>
<text x="860" y="645.94" font-size="11" fill="#ffffff" font-weight="bold" text-anchor="middle" letter-spacing="0.3">2022</text>
<text x="962" y="645.94" font-size="11" fill="#ffffff" font-weight="bold" text-anchor="middle" letter-spacing="0.3">2023</text>
<text x="1064" y="645.94" font-size="11" fill="#ffffff" font-weight="bold" text-anchor="middle" letter-spacing="0.3">2024</text>
<text x="1168" y="645.94" font-size="11" fill="#ffffff" font-weight="bold" text-anchor="middle" letter-spacing="0.3">2025</text>
<text x="1270" y="645.94" font-size="11" fill="#ffffff" font-weight="bold" text-anchor="middle" letter-spacing="0.3">2026</text>
<text x="1347" y="646.07" font-size="11" fill="#ffffff" font-weight="bold" text-anchor="middle" letter-spacing="0.3">10月</text>
<circle cx="1310.8" cy="327.7" r="25" fill="#fcfcfc" filter="url(#sh)"/>
<path d="M1307 320.6L1318 327.5L1307 334.4Z" fill="#3366ff" stroke="#3366ff" stroke-width="2" stroke-linejoin="round"/>
</g></svg>
</body></html>
